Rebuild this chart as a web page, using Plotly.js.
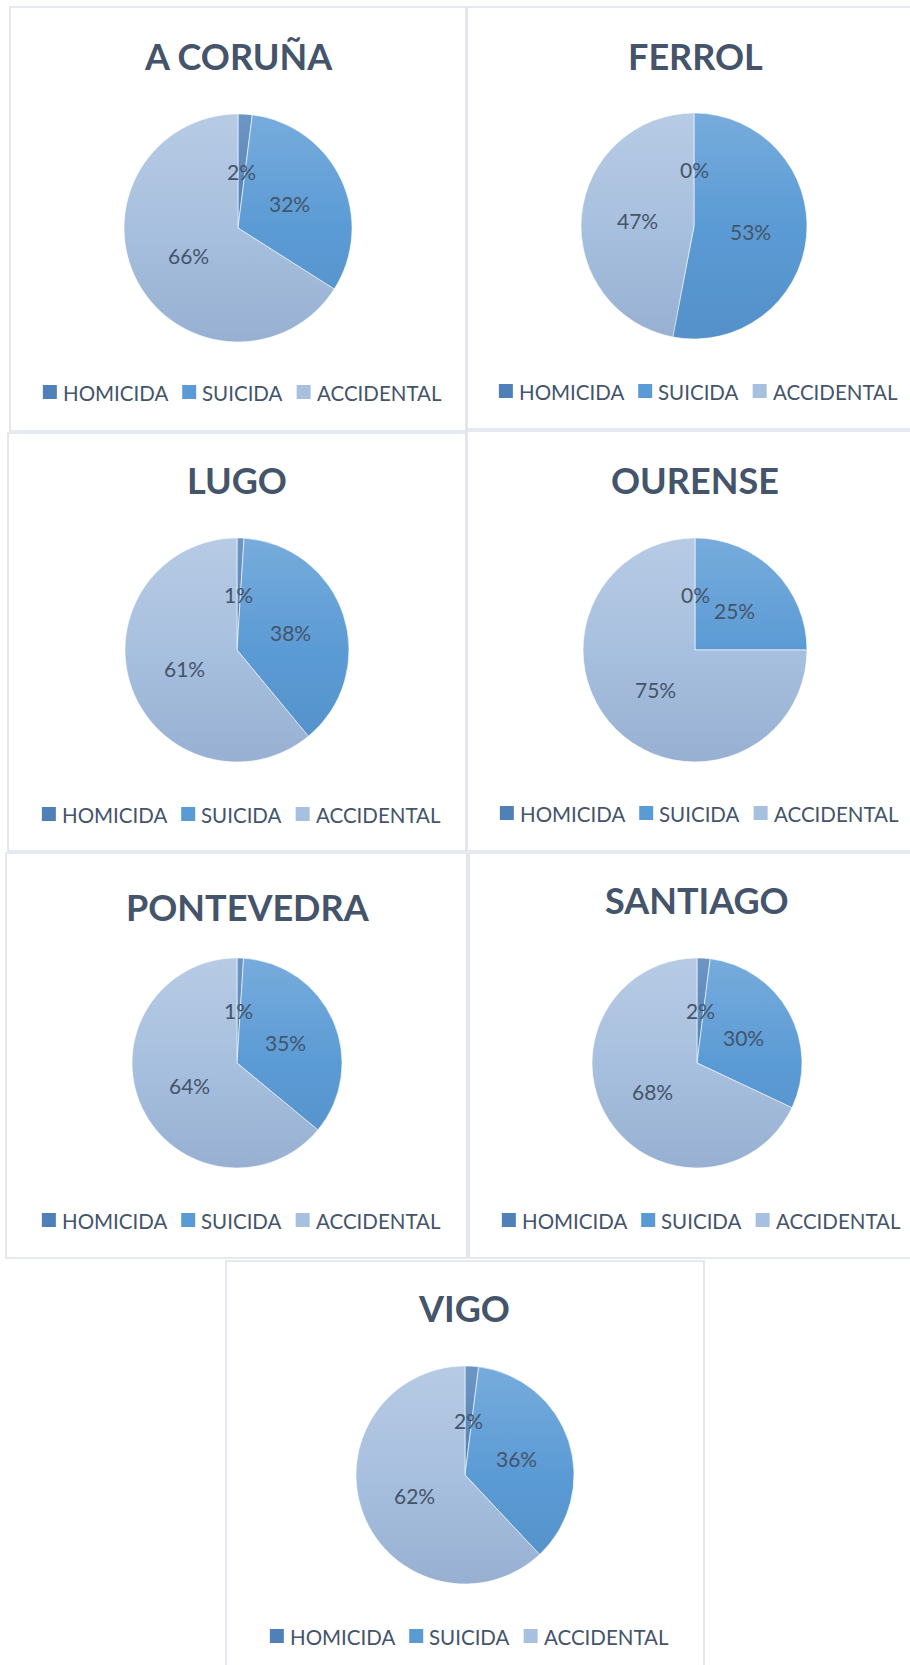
<!DOCTYPE html>
<html>
<head>
<meta charset="utf-8">
<script src="https://cdn.plot.ly/plotly-3.0.1.min.js"></script>
<style>
html,body{margin:0;padding:0;background:#ffffff;}
#chart{width:910px;height:1665px;}
</style>
</head>
<body>
<div id="chart"></div>
<script>
// ---------- DATA ----------
const categories = ['HOMICIDA', 'SUICIDA', 'ACCIDENTAL'];
const cities = ['A CORUÑA', 'FERROL', 'LUGO', 'OURENSE', 'PONTEVEDRA', 'SANTIAGO', 'VIGO'];
const valuesCoruna     = [2, 32, 66];
const valuesFerrol     = [0, 53, 47];
const valuesLugo       = [1, 38, 61];
const valuesOurense    = [0, 25, 75];
const valuesPontevedra = [1, 35, 64];
const valuesSantiago   = [2, 30, 68];
const valuesVigo       = [2, 36, 62];
const seriesValues = [valuesCoruna, valuesFerrol, valuesLugo, valuesOurense,
                      valuesPontevedra, valuesSantiago, valuesVigo];

// ---------- STYLE / LAYOUT ----------
const W = 910, H = 1665;
const sliceColors = ['#4F80B7', '#5B9BD5', '#A8C0DF'];
const titleColor = '#44546A';
const textColor = '#44546A';
const FONT = 'Lato, "Open Sans", sans-serif';
const LABEL_SIZE = 21;
const LEGEND_SIZE = 20.5;
const TITLE_SIZE = 36;

// panel frames [x0, y0, x1, y1] in px
const panels = [
  [10, 7, 466, 431],
  [467, 7, 915, 429],
  [8, 433, 466, 851],
  [467, 431, 915, 851],
  [6, 853, 467, 1258],
  [469, 853, 915, 1258],
  [226, 1261, 704, 1672]
];
// pie centre x, centre y, radius (px)
const pieGeom = [
  [238, 228, 114],
  [694, 226, 113],
  [237, 650, 112],
  [695, 650, 112],
  [237, 1063, 105],
  [697, 1063, 105],
  [465, 1475, 109]
];
// title centre positions (px)
const titlePos = [
  [238, 56], [695, 56], [237, 480], [695, 480], [248, 907], [697, 900], [464, 1308]
];
// legend centre positions (px)
const legendPos = [
  [242, 392], [698, 391], [241, 814], [699, 813], [241, 1220], [701, 1220], [469, 1636]
];

const px = x => x / W;
const py = y => 1 - y / H;

// text measuring for the legend layout
const measureCtx = document.createElement('canvas').getContext('2d');
function textWidth(str, size) {
  measureCtx.font = size + 'px Lato, "Open Sans", sans-serif';
  return measureCtx.measureText(str).width;
}

// subtle vertical shading like the original (light top, darker bottom)
function shadeImage() {
  const svg = '<svg xmlns="http://www.w3.org/2000/svg" width="200" height="200" viewBox="0 0 200 200">' +
    '<defs><linearGradient id="g" x1="0" y1="0" x2="0" y2="1">' +
    '<stop offset="0" stop-color="#ffffff" stop-opacity="0.17"/>' +
    '<stop offset="0.5" stop-color="#ffffff" stop-opacity="0"/>' +
    '<stop offset="0.5" stop-color="#284678" stop-opacity="0"/>' +
    '<stop offset="1" stop-color="#284678" stop-opacity="0.13"/>' +
    '</linearGradient></defs>' +
    '<circle cx="100" cy="100" r="99.6" fill="url(#g)"/></svg>';
  return 'data:image/svg+xml;charset=utf-8,' + encodeURIComponent(svg);
}

const data = [];
const annotations = [];
const shapes = [];
const images = [];
const layout = {
  width: W, height: H,
  margin: {l: 0, r: 0, t: 0, b: 0},
  paper_bgcolor: '#ffffff',
  plot_bgcolor: '#ffffff',
  showlegend: false,
  font: {family: FONT, color: textColor}
};

cities.forEach((city, i) => {
  const [cx, cy, r] = pieGeom[i];
  const vals = seriesValues[i];

  data.push({
    type: 'pie',
    name: city,
    labels: categories,
    values: vals,
    sort: false,
    direction: 'clockwise',
    rotation: 0,
    textinfo: 'none',
    hoverinfo: 'label+percent',
    marker: {colors: sliceColors, line: {color: '#ffffff', width: 0.6}},
    domain: {x: [px(cx - r), px(cx + r)], y: [py(cy + r), py(cy - r)]},
    showlegend: false
  });

  images.push({
    source: shadeImage(),
    xref: 'paper', yref: 'paper',
    x: px(cx - r), y: py(cy - r),
    sizex: 2 * r / W, sizey: 2 * r / H,
    xanchor: 'left', yanchor: 'top',
    sizing: 'stretch', layer: 'above'
  });

  // title
  annotations.push({
    text: '<b>' + city + '</b>',
    xref: 'paper', yref: 'paper',
    x: px(titlePos[i][0]), y: py(titlePos[i][1]),
    xanchor: 'center', yanchor: 'middle',
    showarrow: false,
    font: {family: FONT, size: TITLE_SIZE, color: titleColor}
  });

  // percentage labels, placed at half radius on each slice's mid-angle
  const total = vals.reduce((a, b) => a + b, 0);
  let cum = 0;
  vals.forEach((v) => {
    const mid = (cum + v / 2) / total * 2 * Math.PI;
    cum += v;
    const lx = cx + 0.5 * r * Math.sin(mid);
    const ly = cy - 0.5 * r * Math.cos(mid);
    annotations.push({
      text: Math.round(v / total * 100) + '%',
      xref: 'paper', yref: 'paper',
      x: px(lx), y: py(ly),
      xanchor: 'center', yanchor: 'middle',
      showarrow: false,
      font: {family: FONT, size: LABEL_SIZE, color: textColor}
    });
  });

  // legend (square swatch + text) for this panel
  const sw = 14, swGap = 6, itemGap = 14;
  const widths = categories.map(c => textWidth(c, LEGEND_SIZE));
  const total_w = widths.reduce((a, w) => a + sw + swGap + w, 0) + itemGap * (categories.length - 1);
  let lx = legendPos[i][0] - total_w / 2;
  const ly = legendPos[i][1];
  categories.forEach((c, k) => {
    shapes.push({
      type: 'rect', xref: 'paper', yref: 'paper',
      x0: px(lx), x1: px(lx + sw), y0: py(ly + sw / 2), y1: py(ly - sw / 2),
      fillcolor: sliceColors[k], line: {width: 0}, layer: 'above'
    });
    annotations.push({
      text: c,
      xref: 'paper', yref: 'paper',
      x: px(lx + sw + swGap - 2), y: py(ly + 1),
      xanchor: 'left', yanchor: 'middle',
      showarrow: false,
      font: {family: FONT, size: LEGEND_SIZE, color: textColor}
    });
    lx += sw + swGap + widths[k] + itemGap;
  });

  // panel frame
  const [x0, y0, x1, y1] = panels[i];
  shapes.push({
    type: 'rect', xref: 'paper', yref: 'paper',
    x0: px(x0), x1: px(x1), y0: py(y1), y1: py(y0),
    line: {color: '#DEE2EA', width: 1.6},
    fillcolor: 'rgba(0,0,0,0)',
    layer: 'below'
  });
});

layout.annotations = annotations;
layout.shapes = shapes;
layout.images = images;

Plotly.newPlot('chart', data, layout, {displayModeBar: false, staticPlot: true});
</script>
</body>
</html>
